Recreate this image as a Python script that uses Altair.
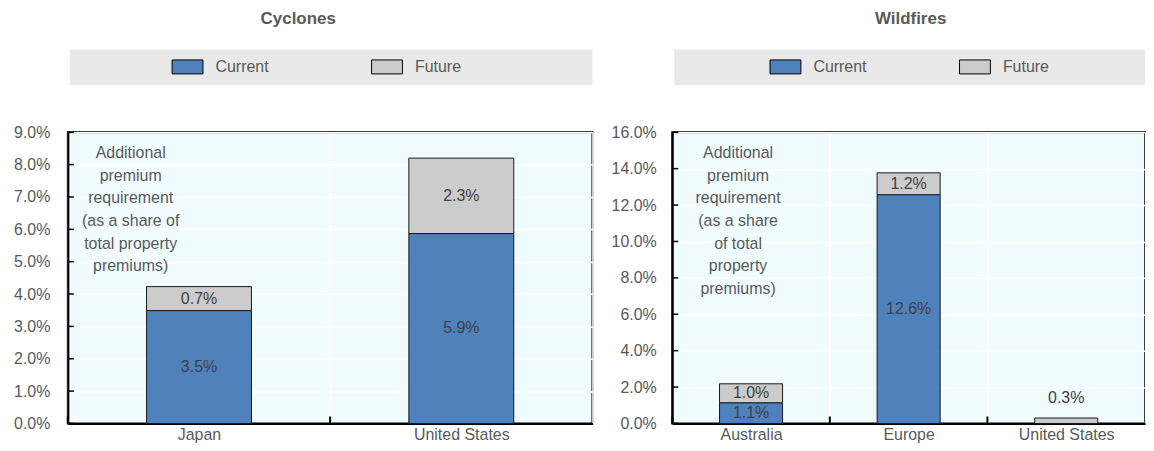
import altair as alt
import pandas as pd

# ---- data ----
series = ["Current", "Future"]
cyc_countries = ["Japan", "United States"]
cyc_current = [3.49, 5.87]
cyc_future = [0.74, 2.33]
wf_countries = ["Australia", "Europe", "United States"]
wf_current = [1.14, 12.57, 0.0]
wf_future = [1.04, 1.2, 0.3]
cyc_ticks = [0, 1, 2, 3, 4, 5, 6, 7, 8, 9]
wf_ticks = [0, 2, 4, 6, 8, 10, 12, 14, 16]
cyc_note = ["Additional", "premium", "requirement", "(as a share of", "total property", "premiums)"]
wf_note = ["Additional", "premium", "requirement", "(as a share", "of total", "property", "premiums)"]

COLORS = ["#4f81bd", "#cccccc"]
FONT = "Liberation Sans"
TXT = "#595959"
H = 292


def long_df(countries, cur, fut):
    rows = []
    for i, c in enumerate(countries):
        start = 0.0
        for s, v in zip(series, [cur[i], fut[i]]):
            rows.append({"country": c, "series": s, "value": v, "start": start,
                         "end": start + v, "order": series.index(s)})
            start += v
    return pd.DataFrame(rows)


def panel(countries, cur, fut, title, ticks, width, note, note_x, title_dx,
          leg_x, leg_pad, ylab_pad):
    df = long_df(countries, cur, fut)
    xenc = alt.X("country:N", sort=countries, title=None,
                 scale=alt.Scale(paddingInner=0, paddingOuter=0),
                 axis=alt.Axis(tickBand="extent", grid=True, gridColor="white",
                               gridWidth=1.5, ticks=False, labelFont=FONT,
                               labelFontSize=16, labelColor=TXT, labelPadding=3,
                               domainColor="black", domainWidth=2, labelAngle=0))
    yscale = alt.Scale(domain=[ticks[0], ticks[-1]], nice=False)
    yaxis = alt.Axis(values=ticks, grid=True, gridColor="white",
                     gridWidth=1.5, labelOverlap=False, ticks=False,
                     labelExpr="format(datum.value, '.1f') + '%'",
                     labelFont=FONT, labelFontSize=16, labelColor=TXT,
                     labelPadding=ylab_pad,
                     domainColor="black", domainWidth=2,
                     minExtent=59, maxExtent=59)
    yenc = alt.Y("start:Q", scale=yscale, title=None, axis=yaxis)

    band = alt.Chart(alt.Data(values=[{}])).mark_rect(color="#e9e9e9").encode(
        x=alt.value(2), x2=alt.value(width),
        y=alt.value(-83), y2=alt.value(-47))

    bars = alt.Chart(df).mark_bar(stroke="#1a1a1a", strokeWidth=1,
                                  width=alt.RelativeBandSize(0.4)).encode(
        x=xenc,
        y=yenc,
        y2="end:Q",
        color=alt.Color("series:N", sort=series,
                        scale=alt.Scale(domain=series, range=COLORS),
                        legend=alt.Legend(
                            title=None, orient="none", direction="horizontal",
                            legendX=leg_x, legendY=-73.5, padding=0,
                            symbolType="M-2.21,-1H2.21V1H-2.21Z",
                            symbolSize=196, symbolStrokeColor="black",
                            symbolStrokeWidth=1, symbolOpacity=1,
                            labelOffset=20, columnPadding=leg_pad,
                            labelFont=FONT, labelFontSize=16, labelColor=TXT)),
        order="order:Q")

    inner = alt.Chart(df).transform_filter("datum.value >= 0.5").transform_calculate(
        mid="(datum.start + datum.end) / 2",
        lbl="format(datum.value, '.1f') + '%'").mark_text(
        font=FONT, fontSize=16, color="#404040").encode(
        x=alt.X("country:N", sort=countries),
        y=alt.Y("mid:Q", scale=yscale, axis=yaxis), text="lbl:N")

    outer = alt.Chart(df).transform_filter(
        "datum.value > 0 && datum.value < 0.5").transform_calculate(
        lbl="format(datum.value, '.1f') + '%'").mark_text(
        font=FONT, fontSize=16, color="#404040", baseline="bottom", dy=-12).encode(
        x=alt.X("country:N", sort=countries),
        y=alt.Y("end:Q", scale=yscale, axis=yaxis), text="lbl:N")

    xticks_in = alt.Chart(pd.DataFrame({"country": countries})).mark_rule(
        color="black", strokeWidth=2).encode(
        x=alt.X("country:N", sort=countries, bandPosition=0),
        y=alt.value(H - 7), y2=alt.value(H))

    yticks_in = alt.Chart(pd.DataFrame({"tick": ticks})).mark_rule(
        color="black", strokeWidth=1.5).encode(
        y=alt.Y("tick:Q", scale=yscale, axis=yaxis),
        x=alt.value(0), x2=alt.value(6))

    ann = alt.Chart(alt.Data(values=[{}])).mark_text(
        text=note, font=FONT, fontSize=16, color=TXT, lineHeight=22.7,
        baseline="top", align="center").encode(
        x=alt.value(note_x), y=alt.value(13))

    return alt.layer(band, bars, inner, outer, xticks_in, yticks_in, ann).properties(
        width=width, height=H,
        title=alt.TitleParams(title, font=FONT, fontSize=17, fontWeight="bold",
                              color=TXT, anchor="middle", frame="group",
                              dx=title_dx, offset=22))


left = panel(cyc_countries, cyc_current, cyc_future, "Cyclones", cyc_ticks, 526,
             cyc_note, 63, -32, 112, 100, 18)
right = panel(wf_countries, wf_current, wf_future, "Wildfires", wf_ticks, 474,
              wf_note, 66, 2, 105.5, 90, 16)

chart = alt.hconcat(left, right, spacing=16).resolve_scale(
    color="independent", x="independent", y="independent").resolve_legend(
    color="independent").configure(padding=0, font=FONT).configure_axis(
    labelOverlap=False).configure_view(
    fill="#f0fcff", stroke="black", strokeWidth=2)

chart.save("out.html", embed_options={"renderer": "svg", "actions": False})
